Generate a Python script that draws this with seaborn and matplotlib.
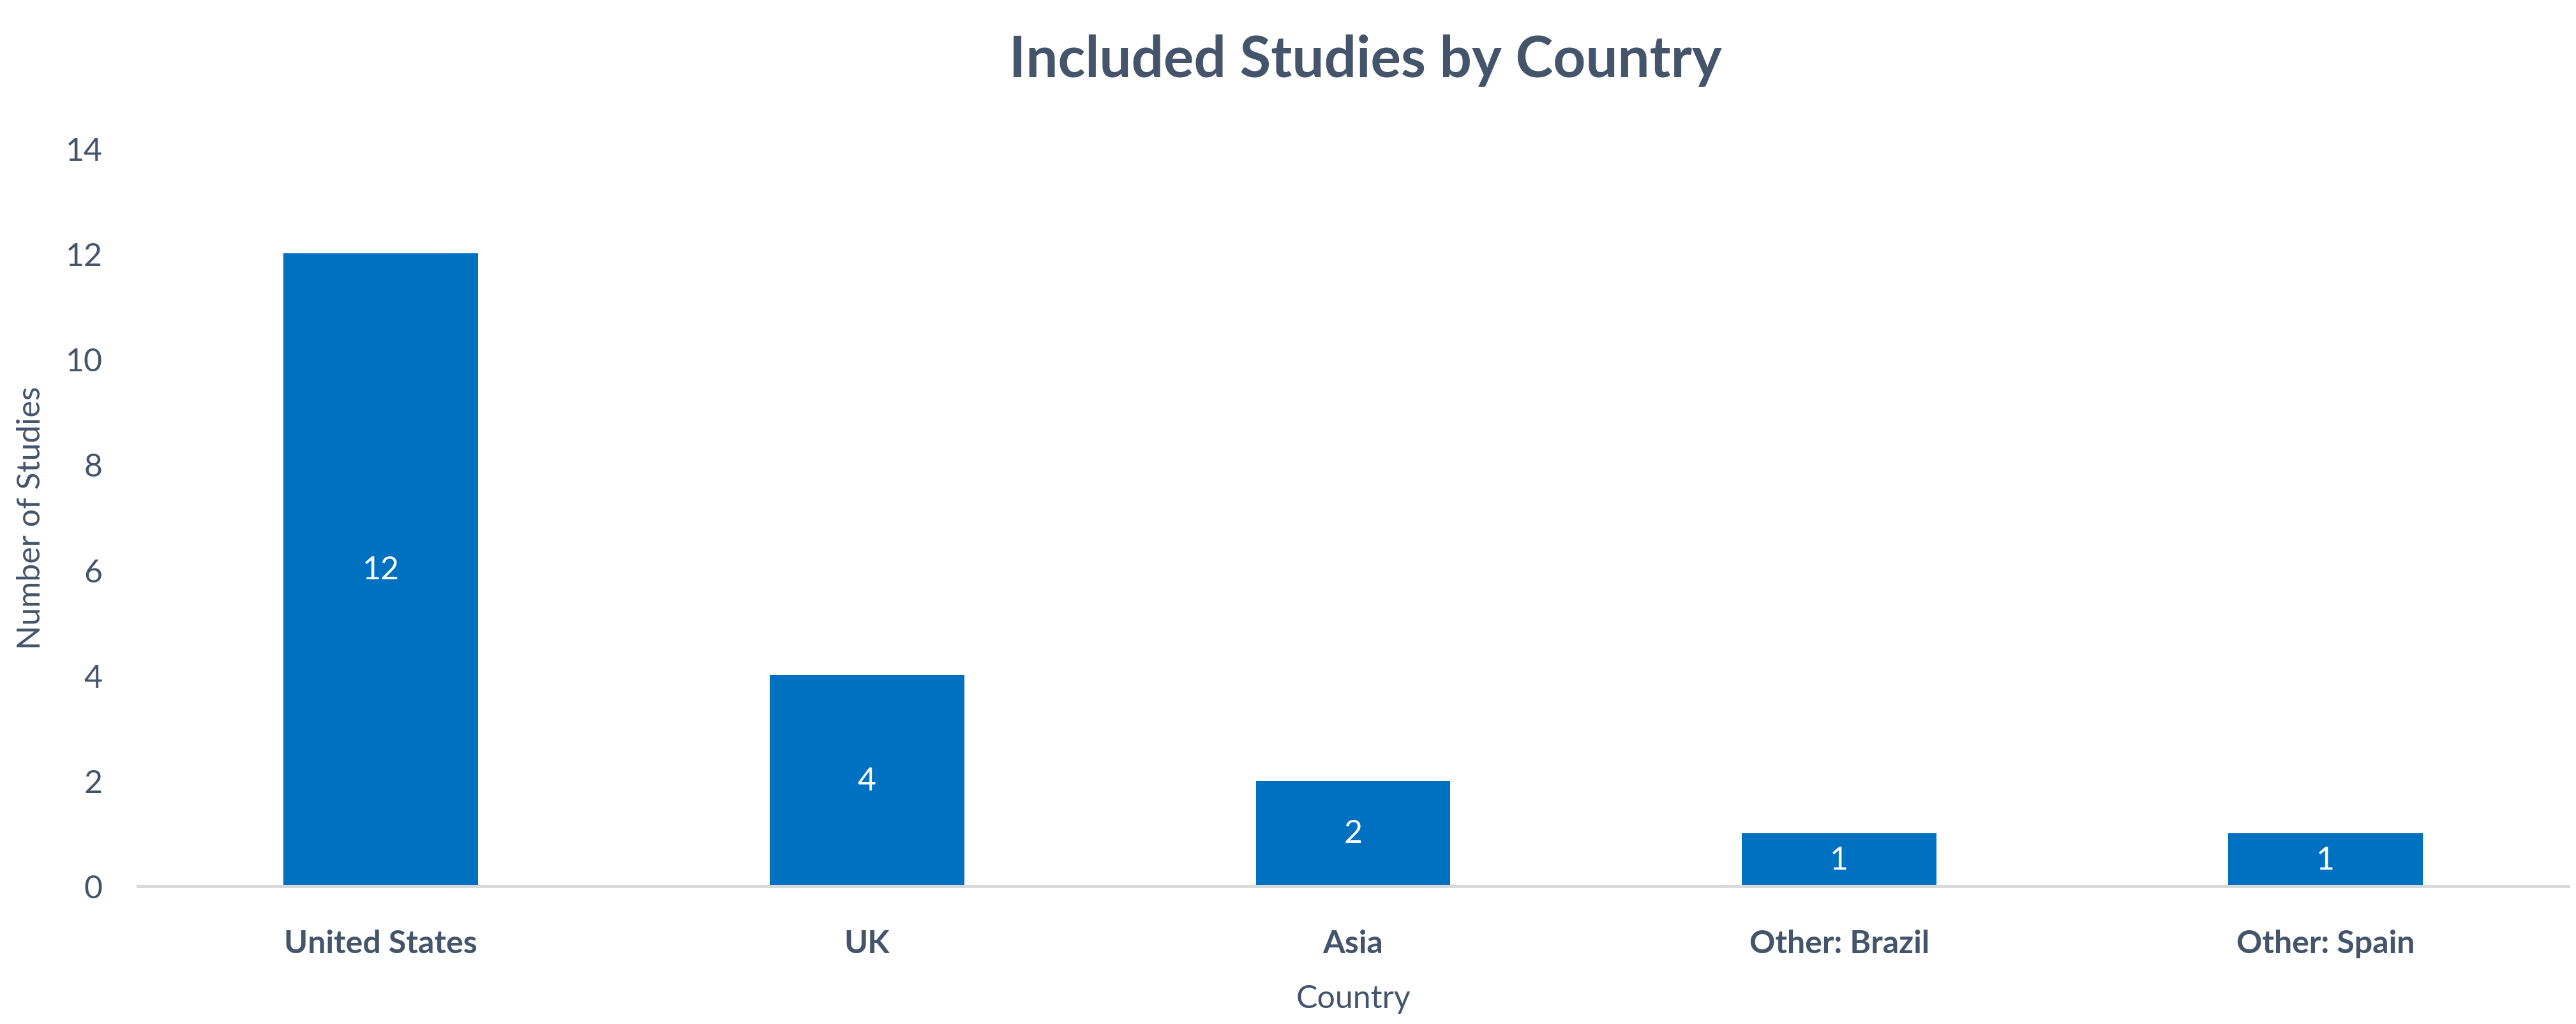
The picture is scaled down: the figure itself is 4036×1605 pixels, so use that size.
import matplotlib
matplotlib.use("Agg")
import matplotlib.pyplot as plt
import seaborn as sns
import pandas as pd

countries = ["United States", "UK", "Asia", "Other: Brazil", "Other: Spain"]
studies = [12, 4, 2, 1, 1]
yticks = [0, 2, 4, 6, 8, 10, 12, 14]

TEXT = "#44546A"
BAR = "#0070C0"

sns.set_theme(style="white")
plt.rcParams["font.family"] = ["Lato", "DejaVu Sans"]

df = pd.DataFrame({"Country": countries, "Studies": studies})

DPI = 200
fig = plt.figure(figsize=(4036 / DPI, 1606 / DPI), dpi=DPI)
ax = fig.add_axes([216 / 4036, 1 - 1390 / 1606, (4024 - 216) / 4036, (1390 - 233) / 1606])

sns.barplot(data=df, x="Country", y="Studies", color=BAR, width=0.4,
            saturation=1, ax=ax, edgecolor="none")

ax.set_xlim(-0.5, len(countries) - 0.5)
ax.set_ylim(0, 14)
ax.set_yticks(yticks)
ax.set_yticklabels([str(t) for t in yticks])

for s in ["top", "right", "left"]:
    ax.spines[s].set_visible(False)
ax.spines["bottom"].set_color("#D9D9D9")
ax.spines["bottom"].set_linewidth(1.8)
ax.grid(False)

ax.tick_params(axis="y", length=0, pad=20, labelsize=18, labelcolor=TEXT)
ax.tick_params(axis="x", length=0, pad=24, labelsize=18, labelcolor=TEXT)
for lbl in ax.get_xticklabels():
    lbl.set_fontweight("bold")

ax.bar_label(ax.containers[0], labels=[str(v) for v in studies],
             label_type="center", color="white", fontsize=18)

ax.set_xlabel("Country", fontsize=18, color=TEXT, labelpad=15)
ax.set_ylabel("Number of Studies", fontsize=18, color=TEXT, labelpad=11)

fig.text(0.53, 1 - 95 / 1606, "Included Studies by Country", ha="center",
         va="center", fontsize=32, fontweight="bold", color=TEXT)

fig.savefig("out.png", dpi=DPI, facecolor="white")
